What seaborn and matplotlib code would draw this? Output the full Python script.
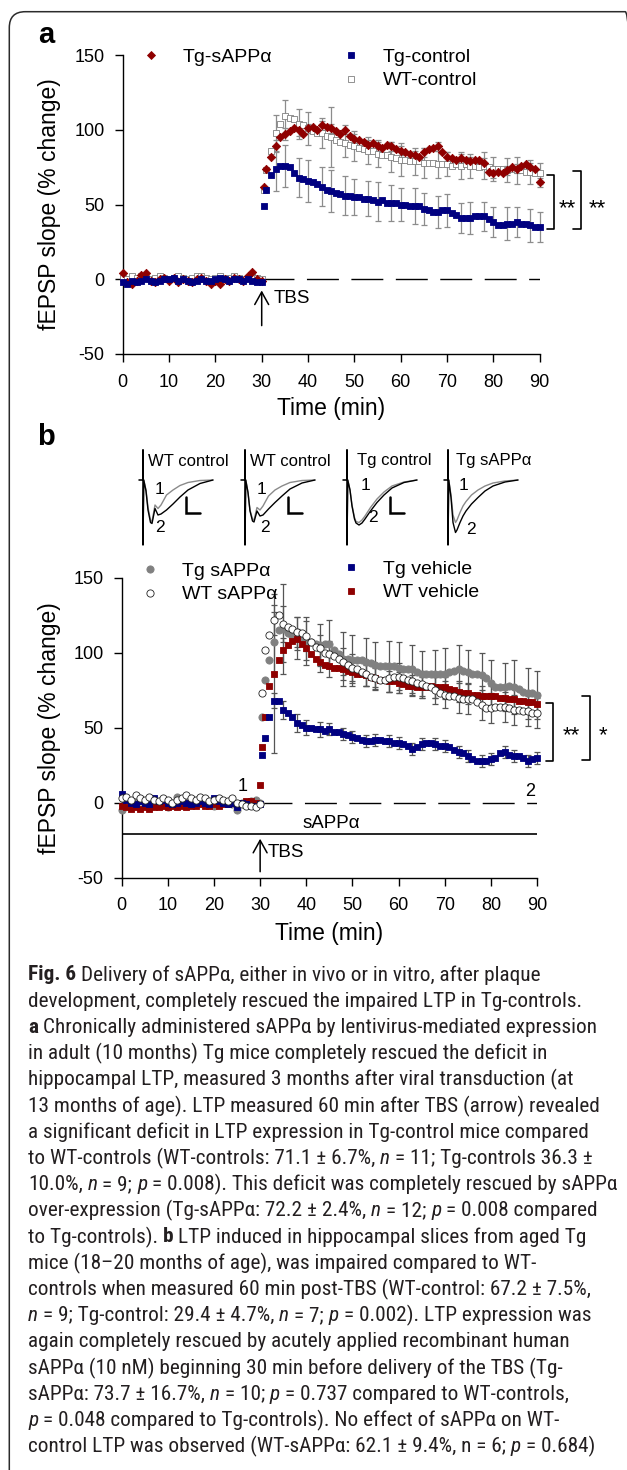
import numpy as np
import pandas as pd
import seaborn as sns
import matplotlib.pyplot as plt
from matplotlib import font_manager
from matplotlib.lines import Line2D
from matplotlib.patches import FancyBboxPatch
from matplotlib.transforms import IdentityTransform

W, H, DPI = 627, 1470, 100

# ---------------- data (fEPSP slope, % change) ----------------
t_base = list(range(0, 31))                 # baseline, 0..30 min
t_post = [30.5] + list(range(31, 91))       # after TBS
err_t = [33, 35, 38, 40, 43, 45, 48, 50, 53, 55, 58, 60,
         63, 65, 68, 70, 73, 75, 78, 80, 83, 85, 88, 90]

# panel a
a_tg_sapp_base = [4, -2, -3, -1, 3, 4, -1, -2, 0, 1, -1, 1, -2, 0, -1, -2,
                  0, 1, -1, -3, -1, -3, 0, -1, 1, 0, -1, 2, 5, 0, -1]
a_tg_sapp_post = [62, 74, 82, 89, 95, 97, 99, 101, 100, 97, 101,
                  102, 100, 103, 102, 101, 99, 97, 100, 96, 94,
                  93, 92, 90, 91, 89, 88, 90, 89, 87, 86,
                  85, 84, 83, 82, 85, 87, 88, 89, 85, 82,
                  81, 80, 81, 80, 79, 80, 80, 78, 72, 71,
                  72, 71, 73, 75, 74, 76, 77, 75, 74, 65]
a_tg_ctrl_base = [-2, -3, -1, -2, -1, 0, -1, -2, -1, 0, 0, 1, -1, 0, -1, -2,
                  -1, 0, -1, -1, 0, 1, 0, -1, 0, 0, -1, 0, -1, -2, -2]
a_tg_ctrl_post = [49, 60, 70, 74, 76, 76, 75, 71, 68, 67, 66,
                  65, 64, 62, 60, 59, 58, 57, 56, 56, 55,
                  55, 54, 54, 53, 52, 53, 51, 51, 51, 50,
                  50, 49, 49, 49, 47, 46, 45, 45, 46, 46,
                  44, 43, 41, 41, 41, 42, 42, 42, 40, 38,
                  36, 36, 37, 37, 38, 37, 37, 36, 35, 35]
a_wt_ctrl_base = [1, 0, 2, 1, 2, 1, 0, 1, 2, 1, 0, 1, 2, 1, 0, 1,
                  2, 2, 1, 0, 1, 2, 1, 1, 2, 1, 0, 1, 2, 1, 0]
a_wt_ctrl_post = [60, 73, 86, 98, 104, 109, 108, 107, 104, 103, 101,
                  99, 98, 98, 96, 95, 93, 92, 91, 90, 89,
                  88, 87, 86, 86, 84, 83, 83, 82, 81, 80,
                  80, 79, 79, 79, 78, 78, 78, 77, 77, 77,
                  76, 77, 76, 77, 76, 76, 75, 76, 75, 74,
                  74, 74, 73, 74, 73, 73, 72, 72, 71, 71]
a_wt_ctrl_sem = [12, 11, 10, 11, 10, 20, 9, 10, 9, 9, 10, 11,
                 9, 10, 9, 8, 9, 8, 9, 8, 8, 9, 8, 7]
a_tg_ctrl_sem = [15, 14, 13, 14, 13, 14, 13, 12, 12, 13, 12, 11,
                 12, 11, 11, 11, 10, 11, 10, 10, 11, 10, 11, 10]
a_tg_sapp_sem = [4, 4, 4, 3, 3, 3, 3, 3, 3, 3, 3, 3,
                 3, 3, 3, 3, 3, 3, 3, 3, 3, 3, 3, 3]

# panel b
b_tg_sapp_base = [-5, 0, -1, 0, 1, -1, 0, 1, 0, -1, -3, 0, 4, 1, 0, -1,
                  0, 1, 0, -1, -2, 0, 1, 0, -1, -5, 0, -1, 1, 2, 0]
b_tg_sapp_post = [57, 82, 95, 107, 115, 116, 113, 111, 110, 109, 108,
                  107, 106, 105, 106, 106, 102, 99, 96, 96, 95,
                  95, 95, 94, 93, 92, 91, 91, 91, 91, 90,
                  89, 89, 89, 87, 86, 86, 86, 86, 86, 86,
                  87, 88, 89, 88, 87, 86, 86, 85, 83, 80,
                  77, 77, 77, 78, 77, 76, 74, 73, 73, 72]
b_wt_sapp_base = [3, 4, 2, 5, 3, 2, 4, 2, 1, 3, 2, 0, 2, 3, 5, 3,
                  2, 4, 3, 1, 2, 3, 2, 1, 3, 0, -1, -2, -2, -3, -1]
b_wt_sapp_post = [73, 102, 112, 122, 125, 119, 117, 116, 114, 113, 111,
                  107, 104, 103, 100, 99, 98, 96, 94, 92, 90,
                  89, 87, 86, 84, 83, 82, 82, 83, 84, 84,
                  83, 82, 81, 80, 79, 78, 77, 75, 73, 72,
                  71, 71, 70, 69, 69, 69, 67, 65, 63, 63,
                  64, 64, 64, 63, 62, 62, 61, 61, 60, 60]
b_tg_veh_base = [6, 2, 0, -1, 1, 0, -1, 3, 1, 2, 0, -1, 0, 1, 0, -1,
                 0, 1, 0, -1, 3, 1, 0, -1, 0, -3, 0, -1, -2, -2, -1]
b_tg_veh_post = [32, 43, 57, 68, 68, 62, 60, 57, 53, 52, 50,
                 50, 49, 49, 48, 49, 47, 47, 46, 45, 44,
                 43, 42, 41, 41, 42, 42, 41, 41, 40, 40,
                 39, 38, 36, 37, 39, 40, 40, 39, 38, 38,
                 37, 35, 34, 33, 31, 29, 28, 28, 28, 29,
                 30, 33, 34, 32, 31, 31, 30, 28, 29, 30]
b_wt_veh_base = [-2, -3, -4, -3, -4, -3, -4, -3, -3, -2, -3, -2, -3, -2, -3, -2,
                 -2, -1, -2, -2, -1, -2, -1, -1, 0, -1, 0, 1, 1, 0, 12]
b_wt_veh_post = [37, 57, 78, 86, 95, 102, 105, 108, 109, 106, 103,
                 99, 96, 94, 92, 91, 90, 90, 89, 88, 87,
                 86, 86, 85, 84, 83, 82, 82, 81, 81, 80,
                 79, 78, 78, 77, 77, 77, 78, 77, 77, 77,
                 76, 75, 74, 73, 73, 72, 72, 71, 71, 71,
                 71, 70, 70, 69, 69, 68, 68, 67, 67, 66]
b_tg_sapp_sem = [20, 30, 14, 16, 14, 16, 18, 17, 16, 15, 17, 17,
                 16, 15, 16, 17, 16, 15, 15, 15, 16, 18, 17, 16]
b_wt_sapp_sem = [10, 12, 10, 10, 9, 9, 9, 9, 8, 8, 9, 9,
                 9, 9, 9, 9, 10, 10, 10, 10, 10, 10, 10, 10]
b_wt_veh_sem = [53, 8, 7, 8, 7, 7, 7, 7, 7, 7, 7, 7,
                7, 7, 7, 7, 7, 7, 7, 7, 7, 7, 7, 7]
b_tg_veh_sem = [5, 6, 6, 5, 5, 4, 4, 4, 4, 4, 4, 4,
                4, 4, 4, 4, 4, 4, 4, 4, 4, 4, 4, 4]

# example fEPSP waveforms (ms, mV); sweep 1 = baseline, sweep 2 = 60 min post-TBS
wave_t = [-0.8, 0, 0, 0, 0.15, 0.6, 1.0, 1.5, 1.8, 2.4, 3.0, 3.6, 4.7, 6.0, 7.4, 9.0, 11.4, 14]
wt1_sweep1 = [0, 0, 0.6, -1.3, 0, -0.2, -0.55, -0.8, -0.83, -0.5, -0.57, -0.5, -0.3, -0.2, -0.11, -0.05, -0.01, 0]
wt1_sweep2 = [0, 0, 0.6, -1.3, 0, -0.22, -0.6, -0.85, -0.87, -0.57, -0.7, -0.68, -0.6, -0.48, -0.34, -0.2, -0.07, 0]
wt2_sweep1 = [0, 0, 0.6, -1.3, 0, -0.25, -0.6, -0.78, -0.8, -0.55, -0.6, -0.52, -0.32, -0.2, -0.12, -0.05, -0.01, 0]
wt2_sweep2 = [0, 0, 0.6, -1.3, 0, -0.25, -0.62, -0.82, -0.84, -0.62, -0.72, -0.7, -0.58, -0.45, -0.32, -0.18, -0.06, 0]
tgc_sweep1 = [0, 0, 0.6, -1.3, 0, -0.2, -0.5, -0.75, -0.83, -0.85, -0.8, -0.72, -0.55, -0.38, -0.24, -0.12, -0.04, 0]
tgc_sweep2 = [0, 0, 0.6, -1.3, 0, -0.2, -0.52, -0.78, -0.86, -0.9, -0.86, -0.78, -0.62, -0.45, -0.3, -0.16, -0.05, 0]
tgs_sweep1 = [0, 0, 0.6, -1.3, 0, -0.3, -0.7, -0.85, -0.8, -0.65, -0.52, -0.43, -0.3, -0.2, -0.12, -0.06, -0.02, 0]
tgs_sweep2 = [0, 0, 0.6, -1.3, 0, -0.35, -0.85, -1.05, -1.0, -0.85, -0.72, -0.62, -0.48, -0.35, -0.22, -0.12, -0.04, 0]
trace_names = ["WT control", "WT control", "Tg control", "Tg sAPPα"]
trace_sweeps = [(wt1_sweep1, wt1_sweep2), (wt2_sweep1, wt2_sweep2),
                (tgc_sweep1, tgc_sweep2), (tgs_sweep1, tgs_sweep2)]

caption_lines = [
    [("Fig. 6", "b"), (" Delivery of sAPPα, either in vivo or in vitro, after plaque", "n")],
    [("development, completely rescued the impaired LTP in Tg-controls.", "n")],
    [("a", "b"), (" Chronically administered sAPPα by lentivirus-mediated expression", "n")],
    [("in adult (10 months) Tg mice completely rescued the deficit in", "n")],
    [("hippocampal LTP, measured 3 months after viral transduction (at", "n")],
    [("13 months of age). LTP measured 60 min after TBS (arrow) revealed", "n")],
    [("a significant deficit in LTP expression in Tg-control mice compared", "n")],
    [("to WT-controls (WT-controls: 71.1 ± 6.7%, ", "n"), ("n", "i"), (" = 11; Tg-controls 36.3 ±", "n")],
    [("10.0%, ", "n"), ("n", "i"), (" = 9; ", "n"), ("p", "i"),
     (" = 0.008). This deficit was completely rescued by sAPPα", "n")],
    [("over-expression (Tg-sAPPα: 72.2 ± 2.4%, ", "n"), ("n", "i"), (" = 12; ", "n"), ("p", "i"),
     (" = 0.008 compared", "n")],
    [("to Tg-controls). ", "n"), ("b", "b"), (" LTP induced in hippocampal slices from aged Tg", "n")],
    [("mice (18–20 months of age), was impaired compared to WT-", "n")],
    [("controls when measured 60 min post-TBS (WT-control: 67.2 ± 7.5%,", "n")],
    [("n", "i"), (" = 9; Tg-control: 29.4 ± 4.7%, ", "n"), ("n", "i"), (" = 7; ", "n"), ("p", "i"),
     (" = 0.002). LTP expression was", "n")],
    [("again completely rescued by acutely applied recombinant human", "n")],
    [("sAPPα (10 nM) beginning 30 min before delivery of the TBS (Tg-", "n")],
    [("sAPPα: 73.7 ± 16.7%, ", "n"), ("n", "i"), (" = 10; ", "n"), ("p", "i"),
     (" = 0.737 compared to WT-controls,", "n")],
    [("p", "i"), (" = 0.048 compared to Tg-controls). No effect of sAPPα on WT-", "n")],
    [("control LTP was observed (WT-sAPPα: 62.1 ± 9.4%, n = 6; ", "n"), ("p", "i"), (" = 0.684)", "n")],
]

RED = "#8f0000"
NAVY = "#000080"
GREY = "#808080"
ERR_A = "#8c8c8c"
ERR_B = "#555555"

# ---------------- style ----------------
sns.set_theme(style="ticks", rc={"axes.edgecolor": "black", "xtick.color": "black",
                                 "ytick.color": "black", "text.color": "black",
                                 "axes.labelcolor": "black"})
plt.rcParams["font.family"] = ["Liberation Sans", "DejaVu Sans"]
plt.rcParams["axes.unicode_minus"] = False

fig = plt.figure(figsize=(W / DPI, H / DPI), dpi=DPI)
renderer = fig.canvas.get_renderer()


def px_box(left, top, right, bottom):
    return [left / W, 1 - bottom / H, (right - left) / W, (bottom - top) / H]


def series_df(base, post):
    assert len(base) == len(t_base) and len(post) == len(t_post)
    return pd.DataFrame({"time": t_base + t_post, "slope": base + post})


def draw_series(ax, base, post, sem, marker, face, edge, size, ecolor, z):
    df = series_df(base, post)
    if sem is not None:
        means = df.set_index("time").loc[err_t, "slope"]
        ax.errorbar(err_t, means.values, yerr=sem, fmt="none", ecolor=ecolor,
                    elinewidth=0.9, capsize=2.3, capthick=0.9, clip_on=False, zorder=2)
    sns.scatterplot(data=df, x="time", y="slope", ax=ax, marker=marker, color=face,
                    edgecolor=edge, s=size, linewidth=0.6, clip_on=False,
                    zorder=z, legend=False)


def style_axes(ax, xlabel_top_px, axis_bottom_px, axis_h_px, axis_left_px, axis_w_px):
    ax.set_xlim(0, 90)
    ax.set_ylim(-50, 150)
    ax.set_xticks(range(0, 91, 10))
    ax.set_yticks([-50, 0, 50, 100, 150])
    sns.despine(ax=ax)
    for sp in ("left", "bottom"):
        ax.spines[sp].set_linewidth(1.0)
    ax.tick_params(axis="both", direction="out", length=5.8, width=1.0, labelsize=13)
    ax.tick_params(axis="x", pad=8.3)
    ax.tick_params(axis="y", pad=7.2)
    ax.set_xlabel("Time (min)", fontsize=16.5)
    ax.set_ylabel("fEPSP slope (% change)", fontsize=16.5)
    ax.xaxis.set_label_coords(0.5, (axis_bottom_px - xlabel_top_px) / axis_h_px)
    ax.yaxis.set_label_coords((61 - axis_left_px) / axis_w_px, 0.5)
    ax.set_facecolor("none")


def legend_at(ax, handles, left_px, top_px):
    leg = ax.legend(handles=handles, loc="upper left",
                    bbox_to_anchor=(left_px / W, 1 - top_px / H),
                    bbox_transform=fig.transFigure, frameon=False, fontsize=14,
                    handlelength=1.0, handletextpad=1.15, labelspacing=0.32,
                    borderpad=0, borderaxespad=0)
    ax.legend_ = None          # keep only the copy added as an artist
    ax.add_artist(leg)


def handle(marker, face, edge, ms, label):
    return Line2D([], [], ls="none", marker=marker, markerfacecolor=face,
                  markeredgecolor=edge, markersize=ms, markeredgewidth=0.6, label=label)


# ---------------- panel a ----------------
ax_a = fig.add_axes(px_box(122.7, 55, 539.7, 354))
draw_series(ax_a, a_wt_ctrl_base, a_wt_ctrl_post, a_wt_ctrl_sem, "s", "white", GREY, 16, ERR_A, 3)
draw_series(ax_a, a_tg_sapp_base, a_tg_sapp_post, a_tg_sapp_sem, "D", RED, RED, 18, ERR_A, 4)
draw_series(ax_a, a_tg_ctrl_base, a_tg_ctrl_post, a_tg_ctrl_sem, "s", NAVY, NAVY, 16, ERR_A, 5)
style_axes(ax_a, 397, 354, 299, 122.7, 417)
ax_a.hlines(0, 30, 90, colors="black", lw=1.0, linestyles=(0, (23, 9)))
ax_a.annotate("", xy=(30, -7.5), xytext=(30, -31),
              arrowprops=dict(arrowstyle="->,head_length=0.45,head_width=0.25",
                              lw=1.1, color="black", shrinkA=0, shrinkB=0, mutation_scale=20))
ax_a.text(32.5, -12.7, "TBS", fontsize=13.5, ha="left", va="center")
ax_a.plot([91.5, 93.1, 93.1, 91.5], [69.5, 69.5, 33.3, 33.3], color="black", lw=1.2, clip_on=False)
ax_a.plot([97.1, 98.9, 98.9, 97.1], [72.2, 72.2, 33.3, 33.3], color="black", lw=1.2, clip_on=False)
ax_a.text(96.0, 47.5, "**", fontsize=16, ha="center", va="center", clip_on=False)
ax_a.text(102.4, 47.5, "**", fontsize=16, ha="center", va="center", clip_on=False)
legend_at(ax_a, [handle("D", RED, RED, 4.2, "Tg-sAPPα")], 141.3, 48)
legend_at(ax_a, [handle("s", NAVY, NAVY, 4.0, "Tg-control"),
                 handle("s", "white", GREY, 4.0, "WT-control")], 341, 48)

# ---------------- panel b example traces ----------------
trace_x0 = [143, 245, 347, 448]
num_pos = [((3.2, -0.2), (3.4, -0.96)), ((3.2, -0.2), (4.0, -0.96)),
           ((3.6, -0.1), (5.2, -0.76)), ((3.0, -0.1), (4.6, -0.98))]
label_dx = [1.0, 1.1, 2.0, 1.6]
for i, x0 in enumerate(trace_x0):
    axt = fig.add_axes(px_box(x0 - 5, 445, x0 + 75, 550))
    axt.set_xlim(-1, 15)
    axt.set_ylim(-1.4, 0.7)
    axt.axis("off")
    s1, s2 = trace_sweeps[i]
    sns.lineplot(x=wave_t, y=s1, ax=axt, color="#8a8a8a", lw=1.0, sort=False, estimator=None)
    sns.lineplot(x=wave_t, y=s2, ax=axt, color="black", lw=1.0, sort=False, estimator=None)
    axt.text(label_dx[i], 0.38, trace_names[i], fontsize=12, ha="left", va="center")
    (x1, y1), (x2, y2) = num_pos[i]
    axt.text(x1, y1, "1", fontsize=12.5, ha="center", va="center")
    axt.text(x2, y2, "2", fontsize=12.5, ha="center", va="center")
    if i < 3:
        axt.plot([8.6, 8.6, 11.4], [-0.34, -0.66, -0.66], color="black", lw=1.8,
                 solid_joinstyle="miter")

# ---------------- panel b ----------------
ax_b = fig.add_axes(px_box(121.7, 578, 537, 877.7))
draw_series(ax_b, b_tg_sapp_base, b_tg_sapp_post, b_tg_sapp_sem, "o", GREY, GREY, 27, ERR_B, 3)
draw_series(ax_b, b_wt_veh_base, b_wt_veh_post, b_wt_veh_sem, "s", RED, RED, 19, ERR_B, 4)
draw_series(ax_b, b_tg_veh_base, b_tg_veh_post, b_tg_veh_sem, "s", NAVY, NAVY, 19, ERR_B, 5)
draw_series(ax_b, b_wt_sapp_base, b_wt_sapp_post, b_wt_sapp_sem, "o", "white", "#222222", 27, ERR_B, 6)
style_axes(ax_b, 922, 877.7, 299.7, 121.7, 415.3)
ax_b.hlines(0, 30, 90, colors="black", lw=1.0, linestyles=(0, (23, 9)))
ax_b.hlines(-21, 0, 90, colors="black", lw=1.2)
ax_b.text(45.5, -14, "sAPPα", fontsize=13.5, ha="center", va="center")
ax_b.annotate("", xy=(30, -24), xytext=(30, -46),
              arrowprops=dict(arrowstyle="->,head_length=0.45,head_width=0.25",
                              lw=1.1, color="black", shrinkA=0, shrinkB=0, mutation_scale=20))
ax_b.text(31.6, -33, "TBS", fontsize=13.5, ha="left", va="center")
ax_b.text(26.3, 11, "1", fontsize=13, ha="center", va="center")
ax_b.text(88.6, 7.3, "2", fontsize=13, ha="center", va="center")
ax_b.plot([91.9, 93.4, 93.4, 91.9], [66.9, 66.9, 27.8, 27.8], color="black", lw=1.2, clip_on=False)
ax_b.plot([99.7, 101.5, 101.5, 99.7], [71.3, 71.3, 28.3, 28.3], color="black", lw=1.2, clip_on=False)
ax_b.text(97.5, 45, "**", fontsize=16, ha="center", va="center", clip_on=False)
ax_b.text(104.2, 45, "*", fontsize=16, ha="center", va="center", clip_on=False)
legend_at(ax_b, [handle("o", GREY, GREY, 5.2, "Tg sAPPα"),
                 handle("o", "white", "#222222", 5.2, "WT sAPPα")], 140.3, 562)
legend_at(ax_b, [handle("s", NAVY, NAVY, 4.3, "Tg vehicle"),
                 handle("s", RED, RED, 4.3, "WT vehicle")], 341, 560)

# panel letters
fig.text(46 / W, 1 - 35 / H, "a", fontsize=21, fontweight="bold", ha="center", va="center")
fig.text(46 / W, 1 - 437 / H, "b", fontsize=21, fontweight="bold", ha="center", va="center")

# ---------------- caption ----------------
names = {f.name for f in font_manager.fontManager.ttflist}
cap_family = next((f for f in ["Roboto Condensed", "Liberation Sans Narrow", "Roboto", "Open Sans"]
                   if f in names), "DejaVu Sans")
styles = {"n": dict(fontweight="normal", fontstyle="normal"),
          "b": dict(fontweight="bold", fontstyle="normal"),
          "i": dict(fontweight="normal", fontstyle="italic")}


def text_width(s, size, style):
    t = fig.text(0, 0, s, fontsize=size, family=[cap_family, "DejaVu Sans"], **styles[style])
    w = t.get_window_extent(renderer).width
    t.remove()
    return w


def draw_line(runs, x0, y, size, draw=True):
    x = x0
    for s, st in runs:
        core = s.strip(" ")
        lead = len(s) - len(s.lstrip(" "))
        trail = len(s) - len(s.rstrip(" "))
        sp = text_width("a a", size, st) - text_width("aa", size, st)
        x += lead * sp
        if core:
            if draw:
                fig.text(x / W, 1 - y / H, core, fontsize=size, ha="left", va="center",
                         family=[cap_family, "DejaVu Sans"], color="#231f20", **styles[st])
            x += text_width(core, size, st)
        x += trail * sp
    return x - x0


base_size = 10.0
widest = max(draw_line(line, 0, 0, base_size, draw=False) for line in caption_lines)
cap_size = base_size * 584 / widest
for k, line in enumerate(caption_lines):
    draw_line(line, 28, 975 + 26.2 * k, cap_size)

# outer rounded frame
frame = FancyBboxPatch((9.3, -40), 632, H - 11.7 + 40,
                       boxstyle="round,pad=0,rounding_size=16",
                       transform=IdentityTransform(), fill=False,
                       edgecolor="#2b2b2b", linewidth=1.1)
fig.patches.append(frame)

fig.savefig("out.png", dpi=DPI)
